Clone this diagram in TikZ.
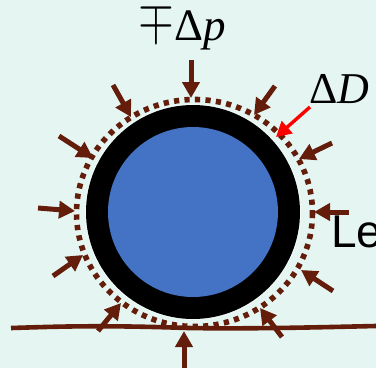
\documentclass[tikz,border=0pt]{standalone}
\usepackage{fontspec}
\setmainfont{Liberation Sans}
\newfontfamily\serf{Liberation Serif}
\usetikzlibrary{arrows.meta}
\definecolor{bgc}{HTML}{E5F6F2}
\definecolor{bluec}{HTML}{4472C4}
\definecolor{brownc}{HTML}{631D0A}
\tikzset{
  press/.style={draw=brownc,line width=5pt,-{Triangle[width=17pt,length=16pt]}},
  redarrow/.style={draw=red,line width=3.4pt,-{Triangle[width=16pt,length=15pt]}},
  lab/.style={inner sep=0pt,anchor=base west,text=black},
}
\begin{document}
\begin{tikzpicture}[x=1pt,y=-1pt]
\useasboundingbox (0,0) rectangle (376,368);
\clip (0,0) rectangle (376,368);
\fill[bgc] (0,0) rectangle (376,368);
% pipe
\fill[white!50!bgc] (193,212) circle[radius=108];
\fill[black] (193,212) circle[radius=107];
\fill[bluec] (193,212) circle[radius=85];
% dotted boundary
\draw[brownc,line width=5.6pt,dash pattern=on 5.2pt off 5.3pt] (194.5,213) ellipse[x radius=118,y radius=113.5];
% ground line
\draw[brownc,line width=4.6pt] (11,328) .. controls (60,326.5) and (100,325) .. (188,328) .. controls (250,329) and (310,327.5) .. (376,326);
% pressure arrows
\coordinate (a1s) at (191,60);  \coordinate (a1e) at (191,98);
\coordinate (a2s) at (113,85);  \coordinate (a2e) at (131,117);
\coordinate (a3s) at (59,136);  \coordinate (a3e) at (93,158);
\coordinate (a4s) at (275,86);  \coordinate (a4e) at (254,115);
\coordinate (a5s) at (332,143); \coordinate (a5e) at (299,159);
\coordinate (a6s) at (38,208);  \coordinate (a6e) at (75,211);
\coordinate (a7s) at (53,276);  \coordinate (a7e) at (83,255);
\coordinate (a8s) at (98,331);  \coordinate (a8e) at (121,303);
\coordinate (a9s) at (184,368); \coordinate (a9e) at (184,331);
\coordinate (a10s) at (282,337);\coordinate (a10e) at (260,308);
\coordinate (a11s) at (333,291);\coordinate (a11e) at (301,270);
\coordinate (a12s) at (349,212);\coordinate (a12e) at (314,212);
\foreach \i in {1,...,12} \draw[press] (a\i s) -- (a\i e);
% red arrow
\coordinate (rs) at (310,107); \coordinate (re) at (276,137);
\draw[redarrow] (rs) -- (re);
% labels
\node[lab,font=\fontsize{45}{45}\selectfont] (dp) at (138,40) {\raisebox{5pt}{\scalebox{1.85}[2.3]{$\mp$}}\hspace{1pt}{\serf Δ\itshape p}};
\node[lab,font=\fontsize{44}{44}\selectfont] (dd) at (309,103) {{\serf Δ\itshape D}};
\node[lab,font=\fontsize{46}{46}\selectfont] (le) at (331,247) {Le};
\end{tikzpicture}
\end{document}
